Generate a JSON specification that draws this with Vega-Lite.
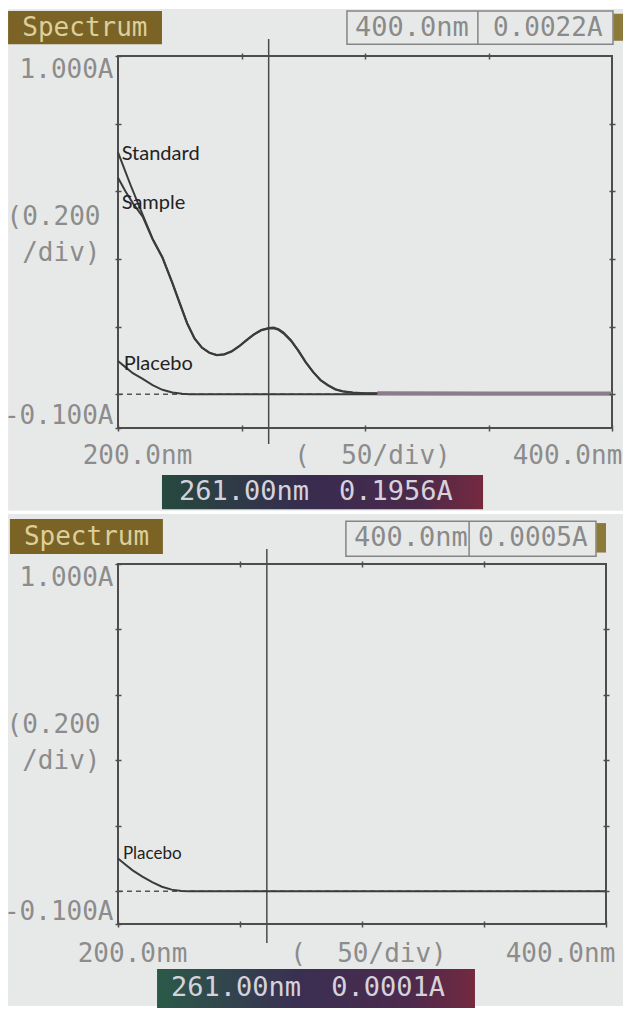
{
  "$schema": "https://vega.github.io/schema/vega-lite/v6.json",
  "background": "#ffffff",
  "padding": {"left": 3, "top": 8, "right": 0, "bottom": 0},
  "config": {
    "view": {"stroke": null},
    "axis": {
      "zindex": 1,
      "labelFont": "DejaVu Sans Mono", "labelFontSize": 26, "labelColor": "#8c8c8c",
      "titleFont": "DejaVu Sans Mono", "titleFontSize": 26, "titleFontWeight": "normal", "titleColor": "#8c8c8c",
      "tickColor": "#4d4d4d", "tickWidth": 1.5, "tickSize": 6, "domain": false, "grid": false,
      "labelFlush": false, "labelOverlap": false, "labelBound": false
    }
  },
  "datasets": {
    "top_spectra": [
      {"series": "Standard", "nm": 200, "A": 0.715}, {"series": "Standard", "nm": 205, "A": 0.62},
      {"series": "Standard", "nm": 210, "A": 0.53}, {"series": "Standard", "nm": 214, "A": 0.46},
      {"series": "Standard", "nm": 218, "A": 0.405}, {"series": "Standard", "nm": 222, "A": 0.33},
      {"series": "Standard", "nm": 225, "A": 0.27}, {"series": "Standard", "nm": 228, "A": 0.21},
      {"series": "Standard", "nm": 231, "A": 0.165}, {"series": "Standard", "nm": 234, "A": 0.138},
      {"series": "Standard", "nm": 237, "A": 0.123}, {"series": "Standard", "nm": 240, "A": 0.116},
      {"series": "Standard", "nm": 243, "A": 0.118}, {"series": "Standard", "nm": 246, "A": 0.127},
      {"series": "Standard", "nm": 249, "A": 0.142}, {"series": "Standard", "nm": 252, "A": 0.16},
      {"series": "Standard", "nm": 255, "A": 0.177}, {"series": "Standard", "nm": 258, "A": 0.19},
      {"series": "Standard", "nm": 261, "A": 0.1956}, {"series": "Standard", "nm": 263, "A": 0.197},
      {"series": "Standard", "nm": 265, "A": 0.192}, {"series": "Standard", "nm": 267, "A": 0.182},
      {"series": "Standard", "nm": 270, "A": 0.16}, {"series": "Standard", "nm": 273, "A": 0.13},
      {"series": "Standard", "nm": 276, "A": 0.095}, {"series": "Standard", "nm": 279, "A": 0.066},
      {"series": "Standard", "nm": 282, "A": 0.042}, {"series": "Standard", "nm": 285, "A": 0.027},
      {"series": "Standard", "nm": 288, "A": 0.015}, {"series": "Standard", "nm": 291, "A": 0.009},
      {"series": "Standard", "nm": 295, "A": 0.005}, {"series": "Standard", "nm": 300, "A": 0.003},
      {"series": "Standard", "nm": 305, "A": 0.0025}, {"series": "Standard", "nm": 350, "A": 0.0022},
      {"series": "Standard", "nm": 400, "A": 0.0022},
      {"series": "Sample", "nm": 200, "A": 0.64}, {"series": "Sample", "nm": 203, "A": 0.6},
      {"series": "Sample", "nm": 206, "A": 0.565}, {"series": "Sample", "nm": 210, "A": 0.525},
      {"series": "Sample", "nm": 214, "A": 0.458}, {"series": "Sample", "nm": 218, "A": 0.403},
      {"series": "Sample", "nm": 222, "A": 0.328}, {"series": "Sample", "nm": 225, "A": 0.268},
      {"series": "Sample", "nm": 228, "A": 0.209}, {"series": "Sample", "nm": 231, "A": 0.164},
      {"series": "Sample", "nm": 234, "A": 0.137}, {"series": "Sample", "nm": 237, "A": 0.122},
      {"series": "Sample", "nm": 240, "A": 0.115}, {"series": "Sample", "nm": 243, "A": 0.117},
      {"series": "Sample", "nm": 246, "A": 0.126}, {"series": "Sample", "nm": 249, "A": 0.141},
      {"series": "Sample", "nm": 252, "A": 0.159}, {"series": "Sample", "nm": 255, "A": 0.176},
      {"series": "Sample", "nm": 258, "A": 0.189}, {"series": "Sample", "nm": 261, "A": 0.194},
      {"series": "Sample", "nm": 263, "A": 0.195}, {"series": "Sample", "nm": 265, "A": 0.19},
      {"series": "Sample", "nm": 267, "A": 0.18}, {"series": "Sample", "nm": 270, "A": 0.158},
      {"series": "Sample", "nm": 273, "A": 0.128}, {"series": "Sample", "nm": 276, "A": 0.094},
      {"series": "Sample", "nm": 279, "A": 0.065}, {"series": "Sample", "nm": 282, "A": 0.041},
      {"series": "Sample", "nm": 285, "A": 0.026}, {"series": "Sample", "nm": 288, "A": 0.014},
      {"series": "Sample", "nm": 291, "A": 0.008}, {"series": "Sample", "nm": 295, "A": 0.004},
      {"series": "Sample", "nm": 300, "A": 0.002}, {"series": "Sample", "nm": 305, "A": 0.002},
      {"series": "Sample", "nm": 350, "A": 0.002}, {"series": "Sample", "nm": 400, "A": 0.002},
      {"series": "Placebo", "nm": 200, "A": 0.098}, {"series": "Placebo", "nm": 203, "A": 0.08},
      {"series": "Placebo", "nm": 206, "A": 0.062}, {"series": "Placebo", "nm": 210, "A": 0.045},
      {"series": "Placebo", "nm": 214, "A": 0.027}, {"series": "Placebo", "nm": 218, "A": 0.013},
      {"series": "Placebo", "nm": 222, "A": 0.005}, {"series": "Placebo", "nm": 226, "A": 0.001},
      {"series": "Placebo", "nm": 229, "A": 0}, {"series": "Placebo", "nm": 400, "A": 0}
    ],
    "bottom_spectra": [
      {"series": "Placebo", "nm": 200, "A": 0.1}, {"series": "Placebo", "nm": 203, "A": 0.082},
      {"series": "Placebo", "nm": 206, "A": 0.064}, {"series": "Placebo", "nm": 210, "A": 0.045},
      {"series": "Placebo", "nm": 214, "A": 0.028}, {"series": "Placebo", "nm": 218, "A": 0.014},
      {"series": "Placebo", "nm": 222, "A": 0.005}, {"series": "Placebo", "nm": 226, "A": 0.001},
      {"series": "Placebo", "nm": 229, "A": 0}, {"series": "Placebo", "nm": 400, "A": 0}
    ]
  },
  "vconcat": [
    {
      "width": 494, "height": 372,
      "data": {"values": [{"cursor_nm": 261, "cursor_A": 0.1956, "end_nm": 400, "end_A": 0.0022}]},
      "transform": [
        {"calculate": "format(datum.cursor_nm, '.2f') + 'nm'", "as": "cursor_nm_text"},
        {"calculate": "format(datum.cursor_A, '.4f') + 'A'", "as": "cursor_A_text"},
        {"calculate": "format(datum.end_nm, '.1f') + 'nm'", "as": "end_nm_text"},
        {"calculate": "format(datum.end_A, '.4f') + 'A'", "as": "end_A_text"}
      ],
      "resolve": {"axis": {"x": "independent", "y": "independent"}},
      "layer": [
        {"mark": {"type": "rect", "fill": "#e7e9e8"},
         "encoding": {"x": {"datum": 155.5, "type": "quantitative", "axis": null, "scale": {"domain": [200, 400], "nice": false, "zero": false}}, "x2": {"datum": 404.5},
                      "y": {"datum": 1.139, "type": "quantitative", "axis": null, "scale": {"domain": [-0.1, 1], "nice": false, "zero": false}}, "y2": {"datum": -0.345}}},
        {"mark": {"type": "rect", "fill": "#7b6325"},
         "encoding": {"x": {"datum": 155.5, "type": "quantitative", "axis": null}, "x2": {"datum": 217.8},
                      "y": {"datum": 1.133, "type": "quantitative", "axis": null}, "y2": {"datum": 1.035}}},
        {"mark": {"type": "rect", "filled": false, "stroke": "#858585", "strokeWidth": 1.5},
         "encoding": {"x": {"datum": 292.7, "type": "quantitative", "axis": null}, "x2": {"datum": 400.4},
                      "y": {"datum": 1.133, "type": "quantitative", "axis": null}, "y2": {"datum": 1.035}}},
        {"mark": {"type": "rule", "stroke": "#858585", "strokeWidth": 1.5},
         "encoding": {"x": {"datum": 345.7, "type": "quantitative", "axis": null},
                      "y": {"datum": 1.133, "type": "quantitative", "axis": null}, "y2": {"datum": 1.035}}},
        {"mark": {"type": "rect", "fill": {"gradient": "linear", "x1": 0, "y1": 0, "x2": 1, "y2": 0,
                   "stops": [{"offset": 0, "color": "#26493d"}, {"offset": 0.45, "color": "#372c4f"}, {"offset": 0.8, "color": "#4b2a4b"}, {"offset": 1, "color": "#76293f"}]}},
         "encoding": {"x": {"datum": 217.8, "type": "quantitative", "axis": null}, "x2": {"datum": 347.8},
                      "y": {"datum": -0.239, "type": "quantitative", "axis": null}, "y2": {"datum": -0.34}}},
        {"mark": {"type": "rule", "stroke": "#555555", "strokeWidth": 1.5, "strokeDash": [5, 4]},
         "encoding": {"x": {"datum": 200, "type": "quantitative", "axis": null}, "x2": {"datum": 400},
                      "y": {"datum": 0, "type": "quantitative", "axis": null}}},
        {"mark": {"type": "rule", "stroke": "#4a4a4a", "strokeWidth": 1.5},
         "encoding": {"x": {"datum": 261, "type": "quantitative", "axis": null},
                      "y": {"datum": 1.05, "type": "quantitative", "axis": null}, "y2": {"datum": -0.147}}},
        {"mark": {"type": "rect", "filled": false, "stroke": "#4d4d4d", "strokeWidth": 2},
         "encoding": {"x": {"datum": 200, "type": "quantitative", "axis": null}, "x2": {"datum": 400},
                      "y": {"datum": -0.1, "type": "quantitative", "axis": null}, "y2": {"datum": 1}}},
        {"data": {"name": "top_spectra"},
         "mark": {"type": "line", "stroke": "#3b3b3b", "strokeWidth": 2},
         "encoding": {
           "x": {"field": "nm", "type": "quantitative", "scale": {"domain": [200, 400], "nice": false, "zero": false},
                 "axis": {"zindex": 2, "orient": "bottom", "offset": -3, "values": [200, 250, 300, 350, 400],
                          "labelExpr": "datum.value == 200 ? '200.0nm' : (datum.value == 400 ? '400.0nm' : '')",
                          "labelOffset": {"condition": {"test": "datum.value == 200", "value": 19}, "value": -45},
                          "labelPadding": 11, "labelBaseline": "top", "labelAlign": "center",
                          "title": "(\u00a0 50/div)", "titleBaseline": "top", "titleAlign": "center", "titleX": 254, "titleY": 17}},
           "y": {"field": "A", "type": "quantitative", "scale": {"domain": [-0.1, 1], "nice": false, "zero": false},
                 "axis": {"zindex": 2, "orient": "left", "offset": -3, "values": [-0.1, 0, 0.2, 0.4, 0.6, 0.8, 1],
                          "labelExpr": "datum.value == 1 ? '1.000A' : (datum.value == -0.1 ? '-0.100A' : '')",
                          "labelBaseline": {"condition": {"test": "datum.value == 1", "value": "top"}, "value": "bottom"},
                          "labelAlign": "right", "labelPadding": 2,
                          "title": ["(0.200", "/div)"], "titleAngle": 0, "titleAlign": "right", "titleBaseline": "middle",
                          "titleX": -21, "titleY": 160, "titleLineHeight": 36}},
           "detail": {"field": "series"}
         }},
        {"data": {"name": "top_spectra"},
         "transform": [{"filter": "datum.series == 'Standard' && datum.nm >= 305"}],
         "mark": {"type": "line", "stroke": "#8b7b8b", "strokeWidth": 4},
         "encoding": {"x": {"field": "nm", "type": "quantitative", "axis": null}, "y": {"field": "A", "type": "quantitative", "axis": null}}},
        {"data": {"values": [
           {"label": "Standard", "nm": 201.5, "A": 0.71},
           {"label": "Sample", "nm": 201.5, "A": 0.565},
           {"label": "Placebo", "nm": 202.3, "A": 0.089}]},
         "mark": {"type": "text", "font": "Lato", "fontSize": 20, "color": "#222222", "align": "left", "baseline": "middle"},
         "encoding": {
           "x": {"field": "nm", "type": "quantitative",
                 "axis": {"zindex": 2, "orient": "top", "offset": -3, "values": [250, 300, 350], "labels": false, "title": null}},
           "y": {"field": "A", "type": "quantitative",
                 "axis": {"zindex": 2, "orient": "right", "offset": -3, "values": [0, 0.2, 0.4, 0.6, 0.8], "labels": false, "title": null}},
           "text": {"field": "label"}}},
        {"mark": {"type": "text", "text": "Spectrum", "font": "DejaVu Sans Mono", "fontSize": 26, "color": "#dccf9c", "align": "center", "baseline": "middle"},
         "encoding": {"x": {"datum": 186.6, "type": "quantitative", "axis": null}, "y": {"datum": 1.084, "type": "quantitative", "axis": null}}},
        {"mark": {"type": "text", "font": "DejaVu Sans Mono", "fontSize": 27, "color": "#8a8a8a", "align": "center", "baseline": "middle"},
         "encoding": {"x": {"datum": 319, "type": "quantitative", "axis": null}, "y": {"datum": 1.084, "type": "quantitative", "axis": null}, "text": {"field": "end_nm_text"}}},
        {"mark": {"type": "text", "font": "DejaVu Sans Mono", "fontSize": 26, "color": "#8a8a8a", "align": "center", "baseline": "middle"},
         "encoding": {"x": {"datum": 374, "type": "quantitative", "axis": null}, "y": {"datum": 1.084, "type": "quantitative", "axis": null}, "text": {"field": "end_A_text"}}},
        {"mark": {"type": "rect", "fill": "#8c7a3a"},
         "encoding": {"x": {"datum": 400.6, "type": "quantitative", "axis": null}, "x2": {"datum": 404.5},
                      "y": {"datum": 1.125, "type": "quantitative", "axis": null}, "y2": {"datum": 1.045}}},
        {"mark": {"type": "text", "font": "DejaVu Sans Mono", "fontSize": 27, "color": "#d6d2dc", "align": "center", "baseline": "middle"},
         "encoding": {"x": {"datum": 251, "type": "quantitative", "axis": null}, "y": {"datum": -0.29, "type": "quantitative", "axis": null}, "text": {"field": "cursor_nm_text"}}},
        {"mark": {"type": "text", "font": "DejaVu Sans Mono", "fontSize": 27, "color": "#d6d2dc", "align": "center", "baseline": "middle"},
         "encoding": {"x": {"datum": 312.5, "type": "quantitative", "axis": null}, "y": {"datum": -0.29, "type": "quantitative", "axis": null}, "text": {"field": "cursor_A_text"}}}
      ]
    },
    {
      "width": 488, "height": 360,
      "data": {"values": [{"cursor_nm": 261, "cursor_A": 0.0001, "end_nm": 400, "end_A": 0.0005}]},
      "transform": [
        {"calculate": "format(datum.cursor_nm, '.2f') + 'nm'", "as": "cursor_nm_text"},
        {"calculate": "format(datum.cursor_A, '.4f') + 'A'", "as": "cursor_A_text"},
        {"calculate": "format(datum.end_nm, '.1f') + 'nm'", "as": "end_nm_text"},
        {"calculate": "format(datum.end_A, '.4f') + 'A'", "as": "end_A_text"}
      ],
      "resolve": {"axis": {"x": "independent", "y": "independent"}},
      "layer": [
        {"mark": {"type": "rect", "fill": "#e7e9e8"},
         "encoding": {"x": {"datum": 154.9, "type": "quantitative", "axis": null, "scale": {"domain": [200, 400], "nice": false, "zero": false}}, "x2": {"datum": 407},
                      "y": {"datum": 1.153, "type": "quantitative", "axis": null, "scale": {"domain": [-0.1, 1], "nice": false, "zero": false}}, "y2": {"datum": -0.3506}}},
        {"mark": {"type": "rect", "fill": "#7b6325"},
         "encoding": {"x": {"datum": 155.7, "type": "quantitative", "axis": null}, "x2": {"datum": 218.4},
                      "y": {"datum": 1.1375, "type": "quantitative", "axis": null}, "y2": {"datum": 1.0306}}},
        {"mark": {"type": "rect", "filled": false, "stroke": "#858585", "strokeWidth": 1.5},
         "encoding": {"x": {"datum": 293.4, "type": "quantitative", "axis": null}, "x2": {"datum": 395.9},
                      "y": {"datum": 1.131, "type": "quantitative", "axis": null}, "y2": {"datum": 1.024}}},
        {"mark": {"type": "rule", "stroke": "#858585", "strokeWidth": 1.5},
         "encoding": {"x": {"datum": 343.9, "type": "quantitative", "axis": null},
                      "y": {"datum": 1.131, "type": "quantitative", "axis": null}, "y2": {"datum": 1.024}}},
        {"mark": {"type": "rect", "fill": {"gradient": "linear", "x1": 0, "y1": 0, "x2": 1, "y2": 0,
                   "stops": [{"offset": 0, "color": "#2a5a48"}, {"offset": 0.45, "color": "#3a2f52"}, {"offset": 0.8, "color": "#4d2a4d"}, {"offset": 1, "color": "#74293f"}]}},
         "encoding": {"x": {"datum": 216, "type": "quantitative", "axis": null}, "x2": {"datum": 346.3},
                      "y": {"datum": -0.2375, "type": "quantitative", "axis": null}, "y2": {"datum": -0.357}}},
        {"mark": {"type": "rule", "stroke": "#555555", "strokeWidth": 1.5, "strokeDash": [5, 4]},
         "encoding": {"x": {"datum": 200, "type": "quantitative", "axis": null}, "x2": {"datum": 400},
                      "y": {"datum": 0, "type": "quantitative", "axis": null}}},
        {"mark": {"type": "rule", "stroke": "#4a4a4a", "strokeWidth": 1.5},
         "encoding": {"x": {"datum": 261, "type": "quantitative", "axis": null},
                      "y": {"datum": 1.046, "type": "quantitative", "axis": null}, "y2": {"datum": -0.158}}},
        {"mark": {"type": "rect", "filled": false, "stroke": "#4d4d4d", "strokeWidth": 2},
         "encoding": {"x": {"datum": 200, "type": "quantitative", "axis": null}, "x2": {"datum": 400},
                      "y": {"datum": -0.1, "type": "quantitative", "axis": null}, "y2": {"datum": 1}}},
        {"data": {"name": "bottom_spectra"},
         "mark": {"type": "line", "stroke": "#3b3b3b", "strokeWidth": 2},
         "encoding": {
           "x": {"field": "nm", "type": "quantitative", "scale": {"domain": [200, 400], "nice": false, "zero": false},
                 "axis": {"zindex": 2, "orient": "bottom", "offset": -3, "values": [200, 250, 300, 350, 400],
                          "labelExpr": "datum.value == 200 ? '200.0nm' : (datum.value == 400 ? '400.0nm' : '')",
                          "labelOffset": {"condition": {"test": "datum.value == 200", "value": 14}, "value": -46},
                          "labelPadding": 13, "labelBaseline": "top", "labelAlign": "center",
                          "title": "(\u00a0 50/div)", "titleBaseline": "top", "titleAlign": "center", "titleX": 250, "titleY": 19}},
           "y": {"field": "A", "type": "quantitative", "scale": {"domain": [-0.1, 1], "nice": false, "zero": false},
                 "axis": {"zindex": 2, "orient": "left", "offset": -3, "values": [-0.1, 0, 0.2, 0.4, 0.6, 0.8, 1],
                          "labelExpr": "datum.value == 1 ? '1.000A' : (datum.value == -0.1 ? '-0.100A' : '')",
                          "labelBaseline": {"condition": {"test": "datum.value == 1", "value": "top"}, "value": "bottom"},
                          "labelAlign": "right", "labelPadding": 2,
                          "title": ["(0.200", "/div)"], "titleAngle": 0, "titleAlign": "right", "titleBaseline": "middle",
                          "titleX": -21, "titleY": 160, "titleLineHeight": 36}},
           "detail": {"field": "series"}
         }},
        {"data": {"values": [{"label": "Placebo", "nm": 202, "A": 0.113}]},
         "mark": {"type": "text", "font": "Lato", "fontSize": 17, "color": "#222222", "align": "left", "baseline": "middle"},
         "encoding": {
           "x": {"field": "nm", "type": "quantitative",
                 "axis": {"zindex": 2, "orient": "top", "offset": -3, "values": [250, 300, 350], "labels": false, "title": null}},
           "y": {"field": "A", "type": "quantitative",
                 "axis": {"zindex": 2, "orient": "right", "offset": -3, "values": [0, 0.2, 0.4, 0.6, 0.8], "labels": false, "title": null}},
           "text": {"field": "label"}}},
        {"mark": {"type": "text", "text": "Spectrum", "font": "DejaVu Sans Mono", "fontSize": 26, "color": "#dccf9c", "align": "center", "baseline": "middle"},
         "encoding": {"x": {"datum": 187.1, "type": "quantitative", "axis": null}, "y": {"datum": 1.084, "type": "quantitative", "axis": null}}},
        {"mark": {"type": "text", "font": "DejaVu Sans Mono", "fontSize": 27, "color": "#8a8a8a", "align": "center", "baseline": "middle"},
         "encoding": {"x": {"datum": 320, "type": "quantitative", "axis": null}, "y": {"datum": 1.079, "type": "quantitative", "axis": null}, "text": {"field": "end_nm_text"}}},
        {"mark": {"type": "text", "font": "DejaVu Sans Mono", "fontSize": 26, "color": "#8a8a8a", "align": "center", "baseline": "middle"},
         "encoding": {"x": {"datum": 370, "type": "quantitative", "axis": null}, "y": {"datum": 1.079, "type": "quantitative", "axis": null}, "text": {"field": "end_A_text"}}},
        {"mark": {"type": "rect", "fill": "#8c7a3a"},
         "encoding": {"x": {"datum": 396.1, "type": "quantitative", "axis": null}, "x2": {"datum": 400},
                      "y": {"datum": 1.125, "type": "quantitative", "axis": null}, "y2": {"datum": 1.035}}},
        {"mark": {"type": "text", "font": "DejaVu Sans Mono", "fontSize": 27, "color": "#d6d2dc", "align": "center", "baseline": "middle"},
         "encoding": {"x": {"datum": 248.4, "type": "quantitative", "axis": null}, "y": {"datum": -0.296, "type": "quantitative", "axis": null}, "text": {"field": "cursor_nm_text"}}},
        {"mark": {"type": "text", "font": "DejaVu Sans Mono", "fontSize": 27, "color": "#d6d2dc", "align": "center", "baseline": "middle"},
         "encoding": {"x": {"datum": 310.7, "type": "quantitative", "axis": null}, "y": {"datum": -0.296, "type": "quantitative", "axis": null}, "text": {"field": "cursor_A_text"}}}
      ]
    }
  ],
  "spacing": 136,
  "bounds": "flush"
}
